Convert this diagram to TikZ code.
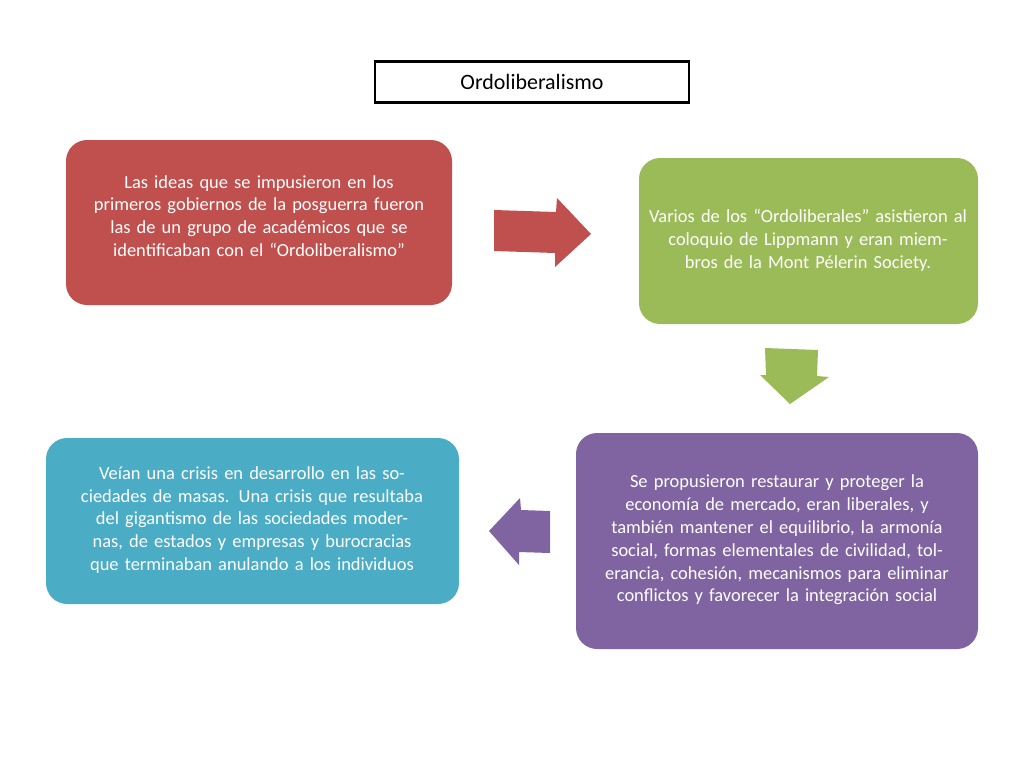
\documentclass[tikz,border=0pt]{standalone}
\usepackage{fontspec}
\setmainfont{Carlito}
\definecolor{cred}{HTML}{C0504D}
\definecolor{cgreen}{HTML}{9BBB59}
\definecolor{cpurple}{HTML}{8064A2}
\definecolor{cblue}{HTML}{4BACC6}
\begin{document}
\begin{tikzpicture}[x=0.02cm,y=-0.02cm,
  box/.style={rounded corners=12pt,text=white,align=center,font=\fontsize{10.5}{13}\selectfont,inner sep=0pt}]
\useasboundingbox (0,0) rectangle (1024,768);
\node[draw,line width=1.2pt,minimum width=314*0.02cm,minimum height=41*0.02cm,font=\fontsize{12.5}{15}\selectfont] (t) at (532,82) {Ordoliberalismo};
\fill[cred,rounded corners=12pt] (66,140) rectangle (452,305);
\node[box,text width=370*0.02cm] (a) at (259,216) {Las ideas que se impusieron en los primeros gobiernos de la posguerra fueron las de un grupo de académicos que se identificaban con el “Ordoliberalismo”};
\fill[cgreen,rounded corners=12pt] (639,158) rectangle (978,324);
\node[box,text width=330*0.02cm] (b) at (808,240) {Varios de los “Ordoliberales” asistieron al coloquio de Lippmann y eran miembros de la Mont Pélerin Society.};
\fill[cpurple,rounded corners=12pt] (576,433) rectangle (978,649);
\node[box,text width=380*0.02cm] (c) at (777,540) {Se propusieron restaurar y proteger la economía de mercado, eran liberales, y también mantener el equilibrio, la armonía social, formas elementales de civilidad, tolerancia, cohesión, mecanismos para eliminar conflictos y favorecer la integración social};
\fill[cblue,rounded corners=12pt] (46,438) rectangle (459,604);
\node[box,text width=390*0.02cm] (d) at (252,520) {Veían una crisis en desarrollo en las sociedades de masas. Una crisis que resultaba del gigantismo de las sociedades modernas, de estados y empresas y burocracias que terminaban anulando a los individuos};
\fill[cred] (494,210) -- (556,212) -- (557,198) -- (591,234) -- (555,267) -- (555,253) -- (494,251) -- cycle;
\fill[cgreen] (765,348) -- (818,350) -- (817,376) -- (829,377) -- (790,404) -- (760,375) -- (766,375) -- cycle;
\fill[cpurple] (550,511) -- (521,510) -- (520,498) -- (489,531) -- (519,565) -- (519,552) -- (550,553) -- cycle;
\end{tikzpicture}
\end{document}
